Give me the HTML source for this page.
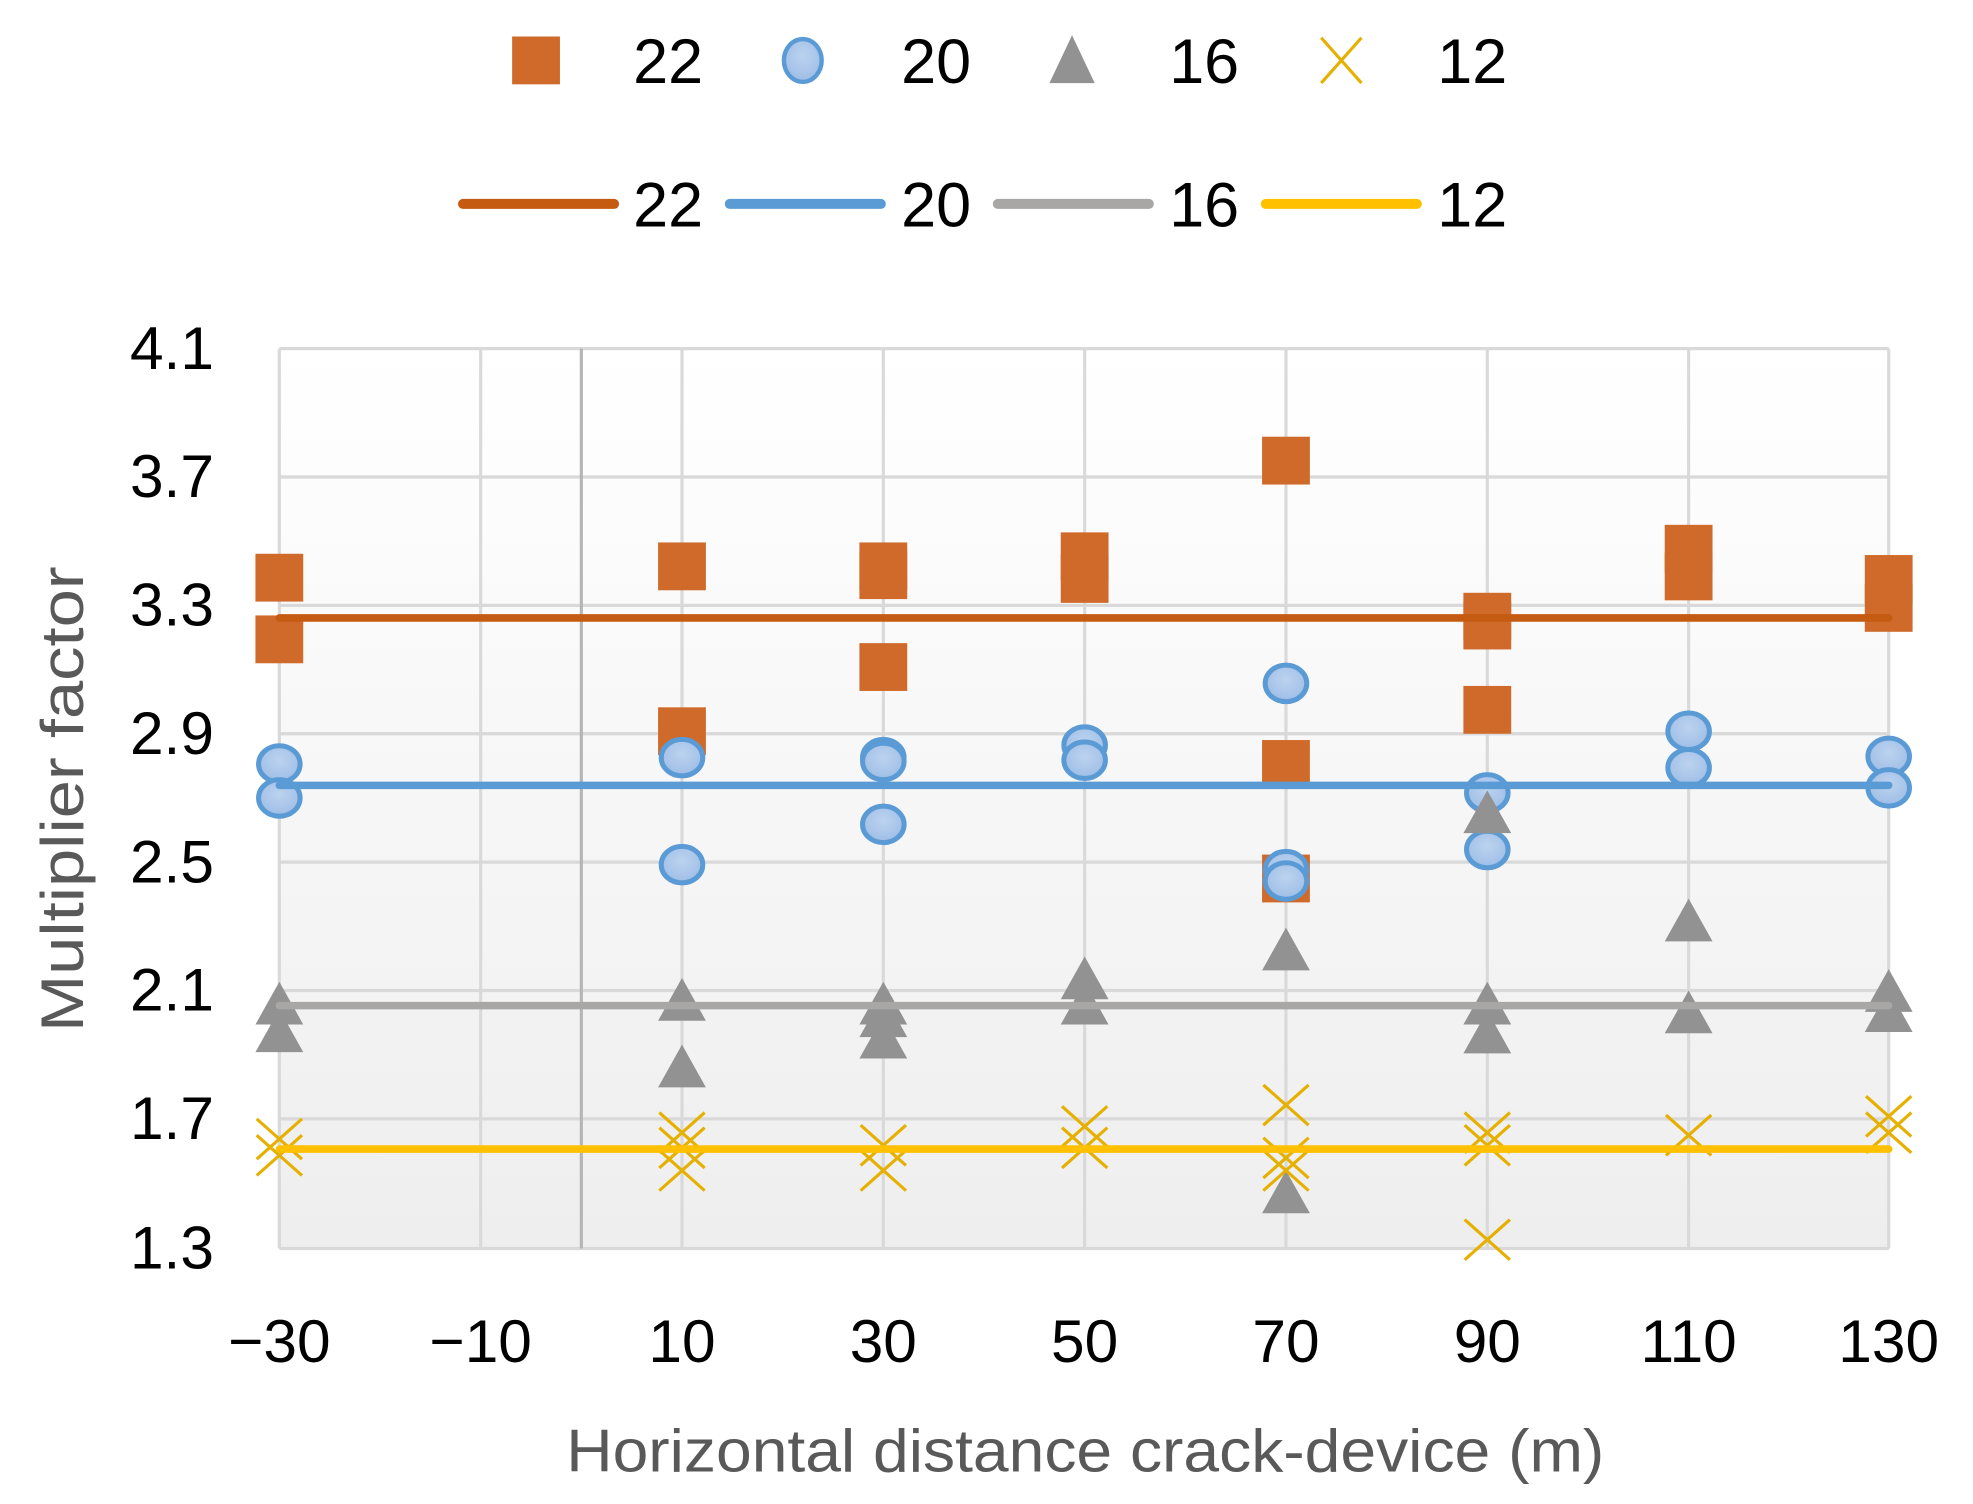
<!DOCTYPE html>
<html><head><meta charset="utf-8"><style>
html,body{margin:0;padding:0;background:#fff;}
svg{display:block;}
text{font-family:"Liberation Sans",sans-serif;}
</style></head><body>
<svg width="1973" height="1504" viewBox="0 0 1568 1195" preserveAspectRatio="none" xmlns="http://www.w3.org/2000/svg">
<defs>
<linearGradient id="bg" x1="0" y1="0" x2="0" y2="1">
<stop offset="0" stop-color="#ffffff"/><stop offset="1" stop-color="#eeeeee"/>
</linearGradient>
<radialGradient id="cg" cx="0.5" cy="0.4" r="0.6"><stop offset="0" stop-color="#bcd3ef"/><stop offset="1" stop-color="#9ebde6"/></radialGradient>
<rect id="sq" x="-19" y="-19" width="38" height="38" fill="#d06a2a"/>
<ellipse id="ci" rx="16.5" ry="14.5" fill="url(#cg)" stroke="#5b9bd5" stroke-width="4"/>
<polygon id="tr" points="0,-20 19,14 -19,14" fill="#929292"/>
<g id="xx" stroke="#e6b000" stroke-width="2.5"><line x1="-18" y1="-16" x2="18" y2="16"/><line x1="-18" y1="16" x2="18" y2="-16"/></g>
</defs>
<rect x="222" y="277" width="1279" height="715" fill="url(#bg)"/>
<g stroke="#d9d9d9" stroke-width="2.5">
<line x1="222" y1="277" x2="1501" y2="277"/><line x1="222" y1="379" x2="1501" y2="379"/>
<line x1="222" y1="481" x2="1501" y2="481"/><line x1="222" y1="583" x2="1501" y2="583"/>
<line x1="222" y1="685" x2="1501" y2="685"/><line x1="222" y1="787" x2="1501" y2="787"/>
<line x1="222" y1="889" x2="1501" y2="889"/><line x1="222" y1="992" x2="1501" y2="992"/>
<line x1="222" y1="277" x2="222" y2="992"/><line x1="382" y1="277" x2="382" y2="992"/>
<line x1="542" y1="277" x2="542" y2="992"/><line x1="702" y1="277" x2="702" y2="992"/>
<line x1="862" y1="277" x2="862" y2="992"/><line x1="1022" y1="277" x2="1022" y2="992"/>
<line x1="1182" y1="277" x2="1182" y2="992"/><line x1="1342" y1="277" x2="1342" y2="992"/>
<line x1="1501" y1="277" x2="1501" y2="992"/>
</g>
<line x1="462" y1="277" x2="462" y2="992" stroke="#b5b5b5" stroke-width="2.5"/>
<g>
<use href="#sq" x="222" y="459"/><use href="#sq" x="222" y="508"/>
<use href="#sq" x="542" y="450"/><use href="#sq" x="542" y="581"/>
<use href="#sq" x="702" y="450"/><use href="#sq" x="702" y="457"/><use href="#sq" x="702" y="530"/>
<use href="#sq" x="862" y="442"/><use href="#sq" x="862" y="460"/>
<use href="#sq" x="1022" y="366"/><use href="#sq" x="1022" y="607"/><use href="#sq" x="1022" y="698"/>
<use href="#sq" x="1182" y="490"/><use href="#sq" x="1182" y="497"/><use href="#sq" x="1182" y="564"/>
<use href="#sq" x="1342" y="436"/><use href="#sq" x="1342" y="458"/>
<use href="#sq" x="1501" y="460"/><use href="#sq" x="1501" y="483"/>
</g>
<g>
<use href="#ci" x="222" y="607"/><use href="#ci" x="222" y="634"/>
<use href="#ci" x="542" y="602"/><use href="#ci" x="542" y="687"/>
<use href="#ci" x="702" y="602"/><use href="#ci" x="702" y="605"/><use href="#ci" x="702" y="655"/>
<use href="#ci" x="862" y="592"/><use href="#ci" x="862" y="604"/>
<use href="#ci" x="1022" y="543"/><use href="#ci" x="1022" y="691"/><use href="#ci" x="1022" y="700"/>
<use href="#ci" x="1182" y="630"/><use href="#ci" x="1182" y="675"/>
<use href="#ci" x="1342" y="581"/><use href="#ci" x="1342" y="610"/>
<use href="#ci" x="1501" y="601"/><use href="#ci" x="1501" y="626"/>
</g>
<g>
<use href="#tr" x="222" y="800"/><use href="#tr" x="222" y="822"/>
<use href="#tr" x="542" y="797"/><use href="#tr" x="542" y="850"/>
<use href="#tr" x="702" y="800"/><use href="#tr" x="702" y="810"/><use href="#tr" x="702" y="827"/>
<use href="#tr" x="862" y="780"/><use href="#tr" x="862" y="800"/>
<use href="#tr" x="1022" y="757"/><use href="#tr" x="1022" y="950"/>
<use href="#tr" x="1182" y="648"/><use href="#tr" x="1182" y="800"/><use href="#tr" x="1182" y="823"/>
<use href="#tr" x="1342" y="734"/><use href="#tr" x="1342" y="807"/>
<use href="#tr" x="1501" y="790"/><use href="#tr" x="1501" y="806"/>
</g>
<g>
<use href="#xx" x="222" y="905"/><use href="#xx" x="222" y="918"/>
<use href="#xx" x="542" y="900"/><use href="#xx" x="542" y="912"/><use href="#xx" x="542" y="930"/>
<use href="#xx" x="702" y="910"/><use href="#xx" x="702" y="930"/>
<use href="#xx" x="862" y="895"/><use href="#xx" x="862" y="912"/>
<use href="#xx" x="1022" y="878"/><use href="#xx" x="1022" y="920"/><use href="#xx" x="1022" y="930"/>
<use href="#xx" x="1182" y="900"/><use href="#xx" x="1182" y="910"/><use href="#xx" x="1182" y="985"/>
<use href="#xx" x="1342" y="902"/>
<use href="#xx" x="1501" y="887"/><use href="#xx" x="1501" y="900"/>
</g>
<g stroke-width="6" stroke-linecap="round">
<line x1="222" y1="491" x2="1501" y2="491" stroke="#c55a11"/>
<line x1="222" y1="624" x2="1501" y2="624" stroke="#5b9bd5"/>
<line x1="222" y1="799" x2="1501" y2="799" stroke="#a9a6a6"/>
<line x1="222" y1="913" x2="1501" y2="913" stroke="#ffc000"/>
</g>
<g font-size="48" fill="#000" text-anchor="end">
<text x="170" y="293">4.1</text><text x="170" y="395">3.7</text><text x="170" y="497">3.3</text>
<text x="170" y="599">2.9</text><text x="170" y="701">2.5</text><text x="170" y="803">2.1</text>
<text x="170" y="905">1.7</text><text x="170" y="1008">1.3</text>
</g>
<g font-size="48" fill="#000" text-anchor="middle">
<text x="222" y="1082">−30</text><text x="382" y="1082">−10</text><text x="542" y="1082">10</text>
<text x="702" y="1082">30</text><text x="862" y="1082">50</text><text x="1022" y="1082">70</text>
<text x="1182" y="1082">90</text><text x="1342" y="1082">110</text><text x="1501" y="1082">130</text>
</g>
<text x="450" y="1169" font-size="48" fill="#595959" textLength="825" lengthAdjust="spacingAndGlyphs">Horizontal distance crack-device (m)</text>
<text transform="translate(66,820) rotate(-90)" font-size="48" fill="#595959" textLength="370" lengthAdjust="spacingAndGlyphs">Multiplier factor</text>
<rect x="407" y="29" width="38" height="38" fill="#d06a2a"/>
<ellipse cx="638" cy="48" rx="15" ry="17" fill="url(#cg)" stroke="#5b9bd5" stroke-width="3.5"/>
<polygon points="852,28 870,66 834,66" fill="#929292"/>
<g stroke="#e6b000" stroke-width="2.5"><line x1="1050" y1="30" x2="1082" y2="66"/><line x1="1050" y1="66" x2="1082" y2="30"/></g>
<g stroke-width="8" stroke-linecap="round">
<line x1="368" y1="162" x2="488" y2="162" stroke="#c55a11"/>
<line x1="580" y1="162" x2="700" y2="162" stroke="#5b9bd5"/>
<line x1="793" y1="162" x2="913" y2="162" stroke="#a9a6a6"/>
<line x1="1006" y1="162" x2="1126" y2="162" stroke="#ffc000"/>
</g>
<g font-size="50" fill="#000" text-anchor="middle">
<text x="531" y="66">22</text><text x="744" y="66">20</text><text x="957" y="66">16</text><text x="1170" y="66">12</text>
<text x="531" y="180">22</text><text x="744" y="180">20</text><text x="957" y="180">16</text><text x="1170" y="180">12</text>
</g>
</svg>
</body></html>
